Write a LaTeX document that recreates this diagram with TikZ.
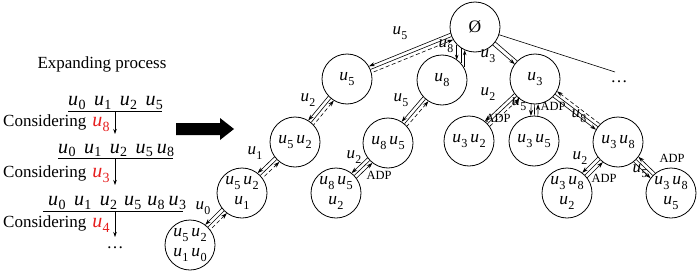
\documentclass[tikz,border=0pt]{standalone}
\usepackage{fontspec}
\usepackage{graphicx}
\setmainfont{Liberation Serif}
\usetikzlibrary{calc,arrows.meta}
\definecolor{myred}{RGB}{230,30,30}
\def\sdrop{0.26em}
\newcommand\uu[1]{\textit{u}\kern0.3pt\raisebox{-\sdrop}{\scalebox{0.7}{#1}}}
\newcommand\gp{\hspace{8.5pt}}
\newcommand\offd{3.5pt}
\newcommand\tri[5]{%
  \draw[#3] ($(#1)!\offd!-90:(#2)$) -- ($(#2)!\offd!90:(#1)$);
  \draw[#4] (#1) -- (#2);
  \draw[#5] ($(#1)!\offd!90:(#2)$) -- ($(#2)!\offd!-90:(#1)$);}
\begin{document}
\begin{tikzpicture}[x=1pt,y=-1pt,
  every node/.style={font=\fontsize{17}{20}\selectfont, inner sep=0pt},
  circ/.style={draw, circle, minimum size=50pt, line width=0.8pt, align=center, font=\fontsize{17.5}{20}\selectfont},
  lbl/.style={font=\fontsize{17}{18}\selectfont},
  adp/.style={font=\fontsize{12.5}{14}\selectfont},
  big/.style={font=\fontsize{20}{22}\selectfont\def\sdrop{0.18em}},
  tedge/.style={line width=0.6pt, shorten <=25pt, shorten >=25pt},
  dn/.style={tedge, -{Stealth[length=6pt,width=4pt]}},
  upd/.style={tedge, {Stealth[length=6pt,width=4pt]}-, dash pattern=on 4pt off 2.5pt},
  ups/.style={tedge, {Stealth[length=6pt,width=4pt]}-},
  mid/.style={line width=0.6pt},
  vdn/.style={line width=0.6pt, -{Stealth[length=5pt,width=3.5pt]}},
  vup/.style={line width=0.6pt, {Stealth[length=5pt,width=3.5pt]}-},
  varr/.style={line width=0.6pt, -{Stealth[length=5pt,width=3.5pt]}}]
\useasboundingbox (0,0) rectangle (700,273);

% tree nodes
\node[circ] (root) at (475,27) {Ø};
\node[circ] (a) at (347,79) {\uu5};
\node[circ] (b) at (442,80) {\uu8};
\node[circ] (c) at (535,79) {\uu3};
\node[circ] (aa) at (295,142) {\uu5\,\uu2};
\node[circ] (aaa) at (242,193) {\uu5\,\uu2\\\uu1};
\node[circ] (aaaa) at (190,245) {\uu5\,\uu2\\\uu1\,\uu0};
\node[circ] (ba) at (388,143) {\uu8\,\uu5};
\node[circ] (baa) at (336,193) {\uu8\,\uu5\\\uu2};
\node[circ] (ca) at (469,141) {\uu3\,\uu2};
\node[circ] (cb) at (534,141) {\uu3\,\uu5};
\node[circ] (cc) at (618,142) {\uu3\,\uu8};
\node[circ] (cca) at (567,193) {\uu3\,\uu8\\\uu2};
\node[circ] (ccb) at (671,193) {\uu3\,\uu8\\\uu5};
\coordinate (rend) at (615,72);
\node (dots1) at (619,82) {\ldots};

% tree edges
\tri{root}{a}{dn}{mid}{upd}
\tri{a}{aa}{dn}{mid}{upd}
\tri{aa}{aaa}{dn}{mid}{upd}
\tri{aaa}{aaaa}{dn}{mid}{upd}
\tri{b}{ba}{dn}{mid}{upd}
\tri{ba}{baa}{dn}{mid}{ups}
\tri{c}{ca}{dn}{mid}{upd}
\tri{c}{cb}{dn}{mid}{ups}
\tri{c}{cc}{dn}{mid}{upd}
\tri{cc}{cca}{dn}{mid}{ups}
\tri{cc}{ccb}{dn}{mid}{ups}
% root -> u8 : short vertical strokes in the gap
\draw[vdn] (root.-136) -- (root.-136 |- b.127);
\draw[mid] (root.-124) -- (root.-124 |- b.139);
\draw[vup] (root.-114) -- (root.-114 |- b.150);
% root -> u3
\draw[dn] ($(root)!2pt!-90:(c)$) -- ($(c)!2pt!90:(root)$);
\draw[tedge] ($(root)!2pt!90:(c)$) -- ($(c)!2pt!-90:(root)$);
\draw[mid] (root) -- (rend);

% edge labels
\node[lbl] (l1) at (400,33) {\uu5};
\node[lbl] (l2) at (446,46) {\uu8};
\node[lbl] (l3) at (488,56) {\uu3};
\node[lbl] (l4) at (308,100) {\uu2};
\node[lbl] (l5) at (255,153) {\uu1};
\node[lbl] (l6) at (203,208) {\uu0};
\node[lbl] (l7) at (401,100) {\uu5};
\node[lbl] (l8) at (354,157) {\uu2};
\node[adp] (a1) at (379,175) {ADP};
\node[lbl] (l9) at (488,94) {\uu2};
\node[adp] (a2) at (498,118) {ADP};
\node[lbl] (l10) at (519,104) {\uu5};
\node[adp] (a3) at (553,106) {ADP};
\node[lbl] (l11) at (579,116) {\uu8};
\node[lbl] (l12) at (580,158) {\uu2};
\node[adp] (a4) at (604,178) {ADP};
\node[adp] (a5) at (672,158) {ADP};
\node[lbl] (l13) at (640,171) {\uu5};

% left: expanding process
\node[anchor=base] (title) at (102,68) {Expanding process};
\node[big, anchor=base west] (s1) at (68,105.5) {\uu0\gp\uu1\gp\uu2\gp\uu5};
\draw[line width=0.7pt] (68,111) -- (162,111);
\node[anchor=base west] (c1) at (3,126) {Considering\hspace{6pt}{\fontsize{20}{22}\selectfont\textcolor{myred}{\uu8}}};
\draw[varr] (115,111) -- (115,134);
\node[big, anchor=base west] (s2) at (58,153) {\uu0\gp\uu1\gp\uu2\gp\uu5\hspace{4pt}\uu8};
\draw[line width=0.7pt] (58,158) -- (173,158);
\node[anchor=base west] (c2) at (3,177) {Considering\hspace{6pt}{\fontsize{20}{22}\selectfont\textcolor{myred}{\uu3}}};
\draw[varr] (115,158) -- (115,185);
\node[big, anchor=base west] (s3) at (48,205.5) {\uu0\gp\uu1\gp\uu2\hspace{7pt}\uu5\hspace{6pt}\uu8\hspace{4pt}\uu3};
\draw[line width=0.7pt] (43,211) -- (183,211);
\node[anchor=base west] (c3) at (3,227) {Considering\hspace{6pt}{\fontsize{20}{22}\selectfont\textcolor{myred}{\uu4}}};
\draw[varr] (115,211) -- (115,237);
\node (dots2) at (115,248) {\ldots};

% big arrow
\fill (176,123) -- (220,123) -- (220,118) -- (234,129) -- (220,140) -- (220,135) -- (176,135) -- cycle;
\end{tikzpicture}
\end{document}
